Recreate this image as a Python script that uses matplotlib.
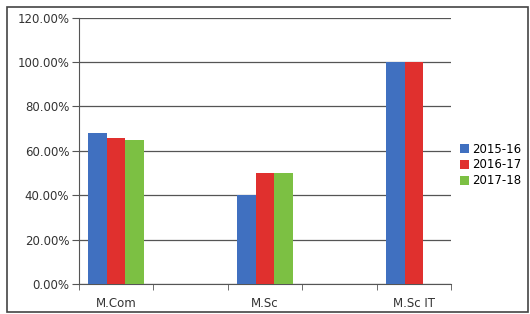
import matplotlib
matplotlib.use("Agg")
import matplotlib.pyplot as plt
import numpy as np
from matplotlib.patches import Rectangle

# categories (blank slots sit between the courses, as in the source chart)
courses = ["M.Com", "", "M.Sc", "", "M.Sc IT"]
years = ["2015-16", "2016-17", "2017-18"]
y2015 = [68, 0, 40, 0, 100]
y2016 = [66, 0, 50, 0, 100]
y2017 = [65, 0, 50, 0, 0]
colors = ["#4070c0", "#e0302e", "#7cc043"]

plt.rcParams['font.family'] = ['DejaVu Sans']

fig = plt.figure(figsize=(5.3, 3.14), dpi=100)
fig.patch.set_facecolor("white")
ax = fig.add_axes([0.149, 0.0955, 0.702, 0.848])
ax.set_facecolor("white")

x = np.arange(len(courses))
w = 0.25
for i, (vals, lab) in enumerate(zip([y2015, y2016, y2017], years)):
    ax.bar(x + (i - 1) * w, vals, w, color=colors[i], label=lab, zorder=3)

ax.set_xlim(-0.5, len(courses) - 0.5)
ax.set_ylim(0, 120)
ax.set_yticks(np.arange(0, 121, 20))
ax.set_yticklabels([f"{v:.2f}%" for v in np.arange(0, 121, 20)])
ax.set_xticks(x)
ax.set_xticklabels(courses)
ax.set_xticks(np.arange(-0.5, len(courses), 1), minor=True)
ax.tick_params(axis='x', which='major', length=0, pad=9, labelsize=8.5, colors="#333333")
ax.tick_params(axis='x', which='minor', length=4, color="#555555")
ax.tick_params(axis='y', length=5, pad=2, color="#555555", labelsize=8.5, labelcolor="#333333")
ax.grid(axis='y', color="#555555", linewidth=0.9, zorder=0)
for s in ["top", "right"]:
    ax.spines[s].set_visible(False)
for s in ["left", "bottom"]:
    ax.spines[s].set_color("#555555")

ax.legend(loc="center left", bbox_to_anchor=(1.025, 0.447), frameon=False,
          fontsize=8.5, handlelength=0.7, handleheight=0.8, handletextpad=0.3,
          labelspacing=0.25, borderaxespad=0, borderpad=0)

fig.patches.append(Rectangle((0.013, 0.006), 0.984, 0.972, transform=fig.transFigure,
                             fill=False, edgecolor="#444444", linewidth=1.2))

fig.savefig("out.png", dpi=100)
